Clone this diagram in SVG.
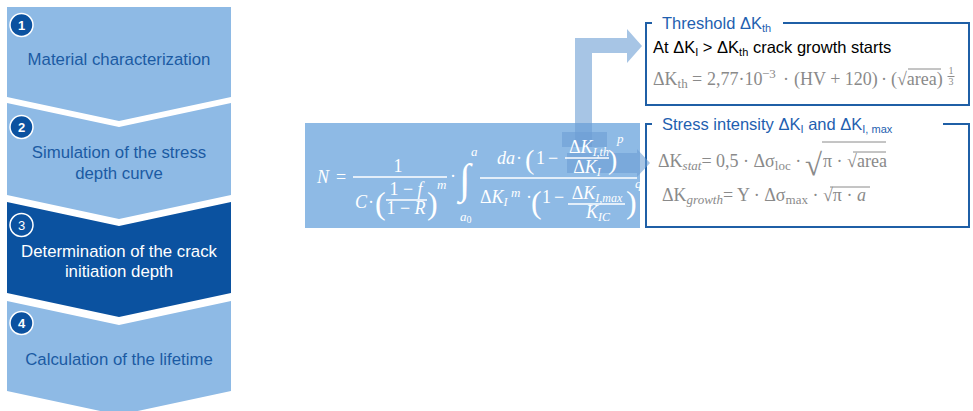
<svg xmlns="http://www.w3.org/2000/svg" width="973" height="411" viewBox="0 0 973 411">
<style>
.lb{fill:#8ebae5}
.db{fill:#0b52a0}
.st{font-family:"Liberation Sans",Arial,sans-serif;font-size:16.8px;text-anchor:middle}
.stb{fill:#1b5aa3}
.stw{fill:#ffffff}
.num{font-family:"Liberation Sans",Arial,sans-serif;font-size:13px;font-weight:bold;fill:#fff;text-anchor:middle}
.circ{fill:#0b52a0;stroke:#fff;stroke-width:1.5}
.m{font-family:"Liberation Serif","Times New Roman",serif;font-size:18px;fill:#fff}
.mi{font-style:italic}
.ms{font-size:13px}
.sb{font-size:12px}
.fl{stroke:#fff;stroke-width:1.3}
.box{fill:none;stroke:#1f5fa6;stroke-width:2}
.ttl{font-family:"Liberation Sans",Arial,sans-serif;font-size:16.5px;fill:#1f5fb0}
.blk{font-family:"Liberation Sans",Arial,sans-serif;font-size:16.5px;fill:#000}
.g{font-family:"Liberation Serif","Times New Roman",serif;font-size:18px;fill:#8a8a8a}
.gl{stroke:#8a8a8a;stroke-width:1}
.arr{fill:#6d9fd4;fill-opacity:0.6}
</style>

<g id="step1">
<polygon class="lb" points="7,7 231,7 231,97 119,121 7,97"/>
<circle class="circ" cx="21.5" cy="25" r="11.5"/>
<text class="num" x="21.5" y="29.5">1</text>
<text class="st stb" x="119" y="65">Material characterization</text>
</g>
<g id="step2">
<polygon class="lb" points="7,103 119,127 231,103 231,195 119,219 7,195"/>
<circle class="circ" cx="21.5" cy="127" r="11.5"/>
<text class="num" x="21.5" y="131.5">2</text>
<text class="st stb" x="119" y="158">Simulation of the stress</text>
<text class="st stb" x="119" y="179">depth curve</text>
</g>
<g id="step3">
<polygon class="db" points="7,202 119,226 231,202 231,293 119,317 7,293"/>
<circle class="circ" cx="21.5" cy="225" r="11.5"/>
<text class="num" x="21.5" y="229.5" style="font-weight:normal">3</text>
<text class="st stw" x="119" y="257">Determination of the crack</text>
<text class="st stw" x="119" y="277">initiation depth</text>
</g>
<g id="step4">
<polygon class="lb" points="7,301 119,325 231,301 231,391 119,415 7,391"/>
<circle class="circ" cx="21.5" cy="323" r="11.5"/>
<text class="num" x="21.5" y="327.5">4</text>
<text class="st stb" x="119" y="365">Calculation of the lifetime</text>
</g>

<g id="formula-box">
<rect class="lb" x="305" y="123" width="335" height="105"/>
</g>

<g id="threshold">
<polyline class="box" points="652,23 646,23 646,105 969,105 969,23 783,23"/>
<text class="ttl" x="662" y="29">Threshold ΔK<tspan style="font-size:11px" dy="3">th</tspan></text>
<text class="blk" x="653" y="53">At ΔK<tspan style="font-size:11px" dy="3">I</tspan><tspan dy="-3"> &gt; ΔK</tspan><tspan style="font-size:11px" dy="3">th</tspan><tspan dy="-3"> crack growth starts</tspan></text>
<text class="g" x="653" y="85">ΔK<tspan style="font-size:13px" dy="3">th</tspan></text>
<text class="g" x="692" y="85">=</text>
<text class="g" x="707" y="85">2,77·10</text>
<text class="g" x="762" y="78" style="font-size:13px">−3</text>
<text class="g" x="783" y="85">·</text>
<text class="g" x="794" y="85">(HV + 120)</text>
<text class="g" x="881" y="85">·</text>
<text class="g" x="891" y="85">(√area)</text>
<line class="gl" x1="908" y1="69" x2="941" y2="69"/>
<text class="g" x="951" y="74" style="font-size:10px" text-anchor="middle">1</text>
<line class="gl" x1="947.5" y1="76.5" x2="954.5" y2="76.5"/>
<text class="g" x="951" y="85" style="font-size:10px" text-anchor="middle">3</text>
</g>

<g id="stress">
<polyline class="box" points="652,124 646,124 646,227 969,227 969,124 943,124"/>
<text class="ttl" x="662" y="130">Stress intensity ΔK<tspan style="font-size:11px" dy="3">I</tspan><tspan dy="-3"> and ΔK</tspan><tspan style="font-size:11px" dy="3">I, max</tspan></text>
<text class="g" x="658" y="167">ΔK<tspan class="mi" style="font-size:13px" dy="3">stat</tspan><tspan dy="-3">= 0,5 · Δσ</tspan><tspan style="font-size:13px" dy="3">loc</tspan><tspan dy="-3"> ·</tspan></text>
<text class="g" x="805" y="175" style="font-size:31px">√</text>
<line class="gl" x1="822" y1="142" x2="886" y2="142"/>
<text class="g" x="823" y="167">π · √area</text>
<line class="gl" x1="853" y1="152" x2="886" y2="152"/>
<text class="g" x="662" y="201">ΔK<tspan class="mi" style="font-size:13px" dy="3">growth</tspan><tspan dy="-3">= Y · Δσ</tspan><tspan style="font-size:13px" dy="3">max</tspan><tspan dy="-3"> · √</tspan><tspan>π · </tspan><tspan class="mi">a</tspan></text>
<line class="gl" x1="830" y1="187" x2="870" y2="187"/>
</g>

<g id="connectors">
<path class="arr" d="M575,147 L575,38 L627,38 L627,29 L642,46 L627,63 L627,53 L592,53 L592,147 Z"/>
<rect class="arr" x="562" y="132" width="45" height="15"/>
<path class="arr" d="M567,153 L637,153 L637,149 L650,163 L637,177 L637,173 L567,173 Z"/>
</g>

<g id="formula">
<text class="m mi" x="317" y="183">N</text>
<text class="m" x="336" y="183">=</text>
<text class="m" x="398" y="172" text-anchor="middle">1</text>
<line class="fl" x1="353" y1="177" x2="447" y2="177"/>
<text class="m mi" x="355" y="208">C</text>
<text class="m" x="368" y="208">·</text>
<text class="m" x="375" y="214" style="font-size:32px">(</text>
<text class="m" x="406" y="195" text-anchor="middle">1 − <tspan class="mi">f</tspan></text>
<line class="fl" x1="386" y1="200" x2="427" y2="200"/>
<text class="m" x="406" y="214" text-anchor="middle">1 − <tspan class="mi">R</tspan></text>
<text class="m" x="427" y="214" style="font-size:32px">)</text>
<text class="m mi ms" x="437" y="189">m</text>
<text class="m" x="450" y="182">·</text>
<text class="m" x="459" y="193" style="font-size:42px">∫</text>
<text class="m mi ms" x="471" y="156">a</text>
<text class="m mi ms" x="460" y="221">a<tspan style="font-style:normal;font-size:10px" dy="2">0</tspan></text>
<line class="fl" x1="480" y1="178" x2="637" y2="178"/>
<text class="m mi" x="497" y="164">da</text>
<text class="m" x="516" y="164">·</text>
<text class="m" x="525" y="169" style="font-size:28px">(</text>
<text class="m" x="536" y="164">1</text>
<text class="m" x="548" y="164">−</text>
<text class="m" x="589" y="153" text-anchor="middle">Δ<tspan class="mi">K</tspan><tspan class="mi sb" dy="3">I,th</tspan></text>
<line class="fl" x1="565" y1="158" x2="609" y2="158"/>
<text class="m" x="587" y="173" text-anchor="middle">Δ<tspan class="mi">K</tspan><tspan class="mi sb" dy="3">I</tspan></text>
<text class="m" x="608" y="169" style="font-size:28px">)</text>
<text class="m mi ms" x="617" y="143">p</text>
<text class="m" x="480" y="203">Δ<tspan class="mi">K</tspan><tspan class="mi sb" dy="3">I</tspan></text>
<text class="m mi ms" x="511" y="197">m</text>
<text class="m" x="526" y="203">·</text>
<text class="m" x="531" y="213" style="font-size:32px">(</text>
<text class="m" x="542" y="203">1</text>
<text class="m" x="554" y="203">−</text>
<text class="m" x="597" y="199" text-anchor="middle">Δ<tspan class="mi">K</tspan><tspan class="mi sb" dy="3">I,max</tspan></text>
<line class="fl" x1="568" y1="204" x2="625" y2="204"/>
<text class="m" x="598" y="218" text-anchor="middle"><tspan class="mi">K</tspan><tspan class="mi sb" dy="3">IC</tspan></text>
<text class="m" x="626" y="213" style="font-size:32px">)</text>
<text class="m mi ms" x="635" y="188">q</text>
</g>
</svg>
